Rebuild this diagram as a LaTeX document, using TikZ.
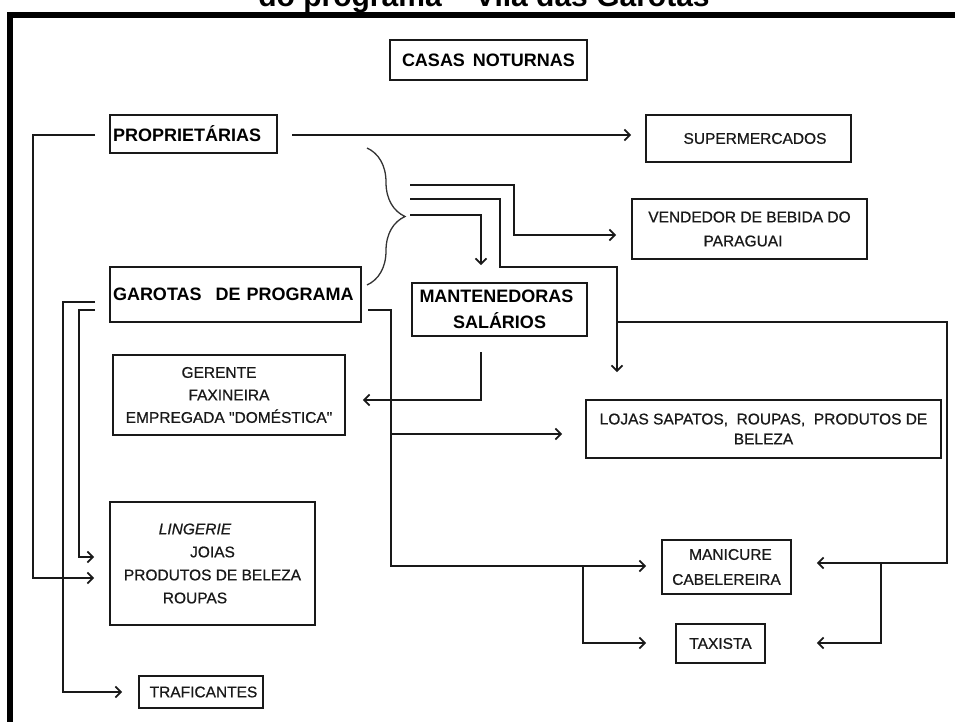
\documentclass[tikz,border=0pt]{standalone}
\usepackage{fontspec}
\setmainfont{Liberation Sans}
\newfontfamily\boxfont{Liberation Sans}[FakeBold=0.7]
\usetikzlibrary{arrows.meta,decorations.pathreplacing}
\begin{document}
\begin{tikzpicture}[x=1pt,y=-1pt,
  box/.style={draw=black!90, line width=1.8pt, rectangle, inner sep=2pt,
    align=center, text=black!90, font=\boxfont\fontsize{15.5}{23}\selectfont},
  headbox/.style={box, text=black, font=\normalfont\bfseries\fontsize{18}{26}\selectfont},
  leftbox/.style={headbox, align=left, inner xsep=3pt},
  link/.style={draw=black!90, line width=1.7pt},
  arr/.style={link, -{Straight Barb[length=5.5pt,width=11pt]}},
  bracket/.style={draw=black!80, line width=1.3pt, decorate,
    decoration={brace, amplitude=38pt}},
]
\useasboundingbox (0,0) rectangle (955,722);

% outer frame and heading
\draw[line width=6pt] (10,740) -- (10,15) -- (975,15);
\node[anchor=base, inner sep=0pt, font=\bfseries\fontsize{30}{30}\selectfont] (title)
  at (484,7) {do programa – Vila das Garotas};

% boxes
\node[headbox, minimum width=197pt, minimum height=40pt] (casas) at (488.5,60)
  {CASAS\hspace{8pt}NOTURNAS};
\node[leftbox, text width=161pt, minimum height=38pt] (prop) at (193.5,134)
  {PROPRIETÁRIAS};
\node[box, minimum width=205pt, minimum height=47pt] (sup) at (748.5,138.5)
  {\hspace*{13pt}SUPERMERCADOS};
\node[box, minimum width=235pt, minimum height=60pt,
  font=\boxfont\fontsize{15.5}{24}\selectfont] (vend) at (749.5,229)
  {VENDEDOR DE BEBIDA DO\\PARAGUAI\hspace*{13pt}};
\node[leftbox, text width=245pt, minimum height=55pt] (gar) at (235.5,294.5)
  {GAROTAS\hspace{14pt}DE PROGRAMA};
\node[headbox, minimum width=175pt, minimum height=53pt] (mant) at (499.5,309.5)
  {MANTENEDORAS\hspace*{6pt}\\SALÁRIOS};
\node[box, minimum width=232pt, minimum height=80pt,
  font=\boxfont\fontsize{15.5}{22.5}\selectfont] (ger) at (229,395)
  {GERENTE\hspace*{20pt}\\FAXINEIRA\hspace*{20pt}\\EMPREGADA "DOMÉSTICA"};
\node[box, minimum width=355pt, minimum height=58pt,
  font=\boxfont\fontsize{15.5}{20}\selectfont] (lojas) at (763.5,429)
  {LOJAS SAPATOS,\ \ ROUPAS,\ \ PRODUTOS DE\\BELEZA};
\node[box, minimum width=205pt, minimum height=123pt] (ling) at (212.5,563.5)
  {\textit{LINGERIE}\hspace*{35pt}\\JOIAS\hspace*{27pt}\\PRODUTOS DE BELEZA\\ROUPAS\hspace*{35pt}};
\node[box, minimum width=129pt, minimum height=54pt,
  font=\boxfont\fontsize{15.5}{25}\selectfont] (mani) at (726.5,567)
  {\hspace*{8pt}MANICURE\\CABELEREIRA};
\node[box, minimum width=89pt, minimum height=39pt] (taxi) at (720.5,643.5) {TAXISTA};
\node[box, minimum width=124pt, minimum height=32pt] (traf) at (201,692) {\hspace*{5pt}TRAFICANTES};

% brace grouping the two upper groups
\draw[bracket] (367,148) -- (367,285);

% bend points and free ends of the connectors
\coordinate (a0) at (292,135);
\coordinate (b0) at (95,135);  \coordinate (b1) at (33,578);
\coordinate (d0) at (410,185); \coordinate (d1) at (514,235);
\coordinate (e0) at (410,199); \coordinate (e1) at (500,267); \coordinate (e2) at (617,267);
\coordinate (f0) at (410,215); \coordinate (f1) at (481,215);
\coordinate (g0) at (618,322); \coordinate (g1) at (947,563);
\coordinate (g2) at (881,563); \coordinate (g3) at (881,643);
\coordinate (h0) at (481,352); \coordinate (h1) at (481,400);
\coordinate (i0) at (368,310); \coordinate (i1) at (391,566);
\coordinate (i2) at (391,434);
\coordinate (i3) at (583,566); \coordinate (i4) at (583,643);
\coordinate (j0) at (95,302);  \coordinate (j1) at (63,692);
\coordinate (k0) at (95,310);  \coordinate (k1) at (79,557);

% connectors
\draw[arr, shorten >=14pt] (a0) -- (sup.west |- a0);
\draw[arr, shorten >=15pt] (b0) -| (b1) -- (ling.west |- b1);
\draw[arr, shorten >=15pt] (d0) -| (d1) -- (vend.west |- d1);
\draw[arr, shorten >=27pt] (e0) -| (e1) -- (e2) -- (e2 |- lojas.north);
\draw[arr, shorten >=17pt] (f0) -- (f1) -- (f1 |- mant.north);
\draw[arr, shorten >=25pt] (g0) -| (g1) -- (mani.east |- g1);
\draw[arr, shorten >=51pt] (g2) -- (g3) -- (taxi.east |- g3);
\draw[arr, shorten >=17pt] (h0) -- (h1) -- (ger.east |- h1);
\draw[arr, shorten >=15pt] (i0) -| (i1) -- (mani.west |- i1);
\draw[arr, shorten >=23pt] (i2) -- (lojas.west |- i2);
\draw[arr, shorten >=29pt] (i3) -- (i4) -- (taxi.west |- i4);
\draw[arr, shorten >=16pt] (j0) -| (j1) -- (traf.west |- j1);
\draw[arr, shorten >=15pt] (k0) -| (k1) -- (ling.west |- k1);
\end{tikzpicture}
\end{document}
